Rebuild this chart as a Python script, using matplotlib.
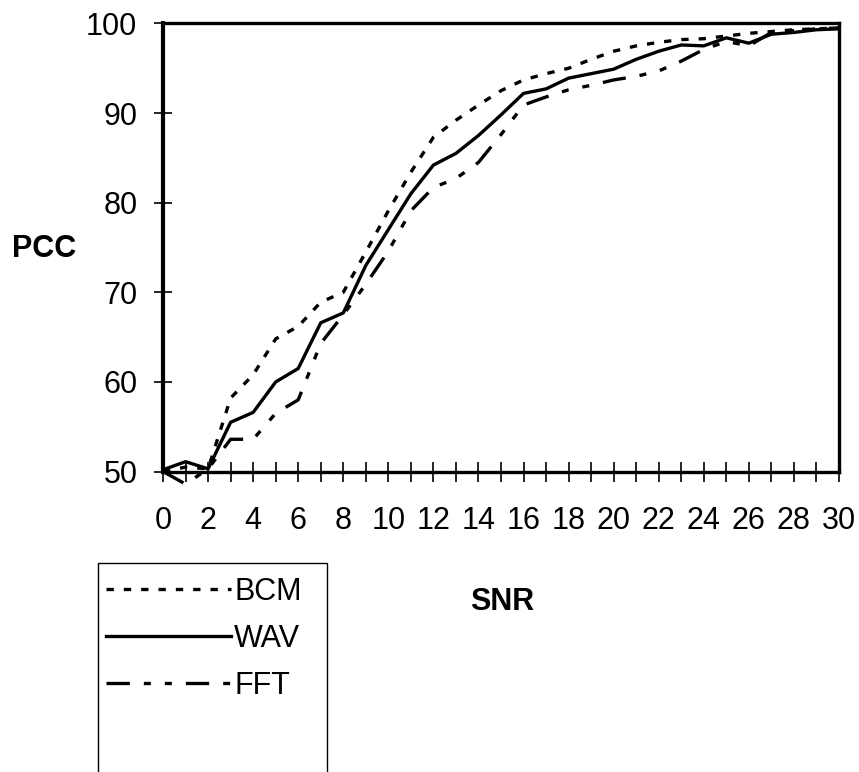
import matplotlib
matplotlib.use('Agg')
import matplotlib.pyplot as plt
import matplotlib.ticker as ticker
from matplotlib.patches import Rectangle

plt.rcParams['font.family'] = ['Liberation Sans', 'DejaVu Sans']

snr = list(range(31))
bcm = [50.0, 50.5, 50.3, 58.2, 60.8, 64.8, 66.2, 68.9, 70.0, 74.5, 79.1,
       83.4, 87.3, 89.2, 90.9, 92.5, 93.7, 94.4, 95.0, 96.0, 96.9,
       97.5, 97.9, 98.2, 98.3, 98.6, 98.9, 99.1, 99.3, 99.4, 99.5]
wav = [50.2, 51.1, 50.3, 55.5, 56.6, 60.0, 61.5, 66.6, 67.7, 73.0, 77.0,
       81.0, 84.2, 85.5, 87.5, 89.8, 92.2, 92.7, 93.9, 94.4, 94.9,
       96.0, 96.9, 97.6, 97.5, 98.4, 97.8, 98.8, 99.0, 99.3, 99.4]
fft = [50.0, 48.6, 50.3, 53.6, 53.6, 56.5, 58.0, 64.3, 67.5, 70.9, 74.6,
       79.1, 81.7, 82.7, 84.5, 87.6, 90.9, 91.8, 92.6, 93.1, 93.7,
       94.1, 94.7, 95.8, 97.1, 98.0, 97.5, 99.0, 99.2, 99.4, 99.5]

fig = plt.figure(figsize=(8.59, 7.72), dpi=100)
ax = fig.add_axes([0.1898, 0.3892, 0.7869, 0.5804])

lw = 2.4
l_bcm, = ax.plot(snr, bcm, color='black', lw=lw, dashes=(2.2, 3.0), label='BCM')
l_wav, = ax.plot(snr, wav, color='black', lw=lw, label='WAV')
l_fft, = ax.plot(snr, fft, color='black', lw=lw, dashes=(7, 4.2, 2.1, 4.2, 2.1, 4.2),
                 label='FFT', clip_on=False)

ax.set_xlim(0, 30)
ax.set_ylim(50, 100)
ax.xaxis.set_major_locator(ticker.MultipleLocator(2))
ax.xaxis.set_minor_locator(ticker.MultipleLocator(1))
ax.yaxis.set_major_locator(ticker.MultipleLocator(10))
ax.tick_params(axis='x', which='both', direction='inout', length=14, width=1.2,
               labelsize=22, pad=18)
ax.tick_params(axis='y', which='major', direction='inout', length=13, width=1.2,
               labelsize=22, pad=12)

for side in ['top', 'right', 'bottom']:
    ax.spines[side].set_linewidth(2.4)
ax.spines['left'].set_linewidth(3)

fig.text(44/859, 1 - 249/772, 'PCC', fontsize=22, fontweight='bold',
         ha='center', va='center')
fig.text(502/859, 1 - 602/772, 'SNR', fontsize=22, fontweight='bold',
         ha='center', va='center')

# legend box runs off the bottom of the figure
box = Rectangle((98/859, -0.1), (327 - 98)/859, (1 - 563/772) + 0.1,
                transform=fig.transFigure, fill=False, lw=1, ec='black')
fig.add_artist(box)
fig.legend(handles=[l_bcm, l_wav, l_fft], loc='upper left',
           bbox_to_anchor=(106/859, 1 - 577/772), frameon=False,
           fontsize=22, handlelength=4.1, handletextpad=0.1,
           labelspacing=0.55, borderpad=0, borderaxespad=0)

plt.savefig('out.png')
